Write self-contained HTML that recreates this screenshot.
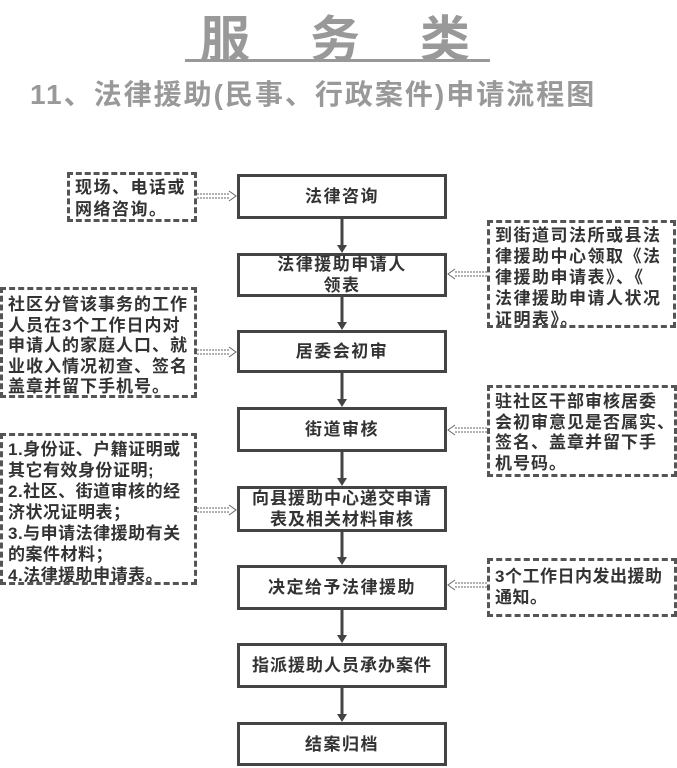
<!DOCTYPE html>
<html><head><meta charset="utf-8"><style>
body{margin:0;width:677px;height:768px;background:#fff;position:relative;overflow:hidden;font-family:"Liberation Sans","Noto Sans CJK SC",sans-serif;}
.t{position:absolute;color:#999;font-weight:bold;}
.b{position:absolute;left:237px;width:204px;border:3px solid #444;display:flex;align-items:center;justify-content:center;text-align:center;font-size:17px;font-weight:bold;color:#333;line-height:21px;letter-spacing:1.5px;}
.d{position:absolute;border:3px dashed #555;box-sizing:border-box;font-size:17px;font-weight:bold;color:#333;line-height:20.5px;padding:4px 2px 0 5px;letter-spacing:1.5px;white-space:nowrap;overflow:hidden;}
svg{position:absolute;left:0;top:0;}
</style></head><body>
<div class="t" style="left:200px;top:0px;font-size:50px">服</div>
<div class="t" style="left:310px;top:0px;font-size:50px">务</div>
<div class="t" style="left:420px;top:0px;font-size:50px">类</div>
<div style="position:absolute;left:185px;top:59px;width:305px;height:3px;background:#999"></div>
<div class="t" style="left:30px;top:73px;font-size:28px;white-space:nowrap;letter-spacing:2px">11、法律援助(民事、行政案件)申请流程图</div>

<div class="b" style="top:174px;height:39px">法律咨询</div>
<div class="b" style="top:253px;height:38px">法律援助申请人<br>领表</div>
<div class="b" style="top:330px;height:37px">居委会初审</div>
<div class="b" style="top:407px;height:39px">街道审核</div>
<div class="b" style="top:486px;height:40px;letter-spacing:1px">向县援助中心递交申请<br>表及相关材料审核</div>
<div class="b" style="top:565px;height:39px">决定给予法律援助</div>
<div class="b" style="top:643px;height:39px;letter-spacing:1px">指派援助人员承办案件</div>
<div class="b" style="top:722px;height:38px">结案归档</div>

<div class="d" style="left:67px;top:172px;width:130px;height:50px;line-height:22px;padding-top:2px">现场、电话或<br>网络咨询。</div>
<div class="d" style="left:0;top:287px;width:197px;height:111px;padding-top:5px;letter-spacing:1px">社区分管该事务的工作<br>人员在3个工作日内对<br>申请人的家庭人口、就<br>业收入情况初查、签名<br>盖章并留下手机号。</div>
<div class="d" style="left:0;top:433px;width:197px;height:152px;padding-top:3px;letter-spacing:0.5px;line-height:21px">1.身份证、户籍证明或<br>其它有效身份证明;<br>2.社区、街道审核的经<br>济状况证明表；<br>3.与申请法律援助有关<br>的案件材料；<br>4.法律援助申请表。</div>
<div class="d" style="left:487px;top:220px;width:189px;height:108px;padding-top:2px;line-height:21px">到街道司法所或县法<br>律援助中心领取《法<br>律援助申请表》、《<br>法律援助申请人状况<br>证明表》。</div>
<div class="d" style="left:487px;top:385px;width:190px;height:92px;padding-top:4px;letter-spacing:1px">驻社区干部审核居委<br>会初审意见是否属实、<br>签名、盖章并留下手<br>机号码。</div>
<div class="d" style="left:487px;top:558px;width:190px;height:59px;padding-top:6px;letter-spacing:0.5px">3个工作日内发出援助<br>通知。</div>

<svg width="677" height="768">
<g stroke="#444" stroke-width="3" fill="#444">
<line x1="342" y1="219" x2="342" y2="247"/><polygon points="337,245 347,245 342,253" stroke="none"/>
<line x1="342" y1="297" x2="342" y2="324"/><polygon points="337,322 347,322 342,330" stroke="none"/>
<line x1="342" y1="373" x2="342" y2="401"/><polygon points="337,399 347,399 342,407" stroke="none"/>
<line x1="342" y1="452" x2="342" y2="480"/><polygon points="337,478 347,478 342,486" stroke="none"/>
<line x1="342" y1="532" x2="342" y2="559"/><polygon points="337,557 347,557 342,565" stroke="none"/>
<line x1="342" y1="610" x2="342" y2="637"/><polygon points="337,635 347,635 342,643" stroke="none"/>
<line x1="342" y1="688" x2="342" y2="716"/><polygon points="337,714 347,714 342,722" stroke="none"/>
</g>
<g stroke="#666" stroke-width="1" fill="none" stroke-dasharray="2,1">
<path d="M197,194 H229 M197,198 H229"/><path d="M229,191 L236,196 L229,201" stroke-dasharray="none"/>
<path d="M197,350 H229 M197,354 H229"/><path d="M229,347 L236,352 L229,357" stroke-dasharray="none"/>
<path d="M197,508 H229 M197,512 H229"/><path d="M229,505 L236,510 L229,515" stroke-dasharray="none"/>
<path d="M487,272 H455 M487,276 H455"/><path d="M455,269 L448,274 L455,279" stroke-dasharray="none"/>
<path d="M487,428 H455 M487,432 H455"/><path d="M455,425 L448,430 L455,435" stroke-dasharray="none"/>
<path d="M487,583 H455 M487,587 H455"/><path d="M455,580 L448,585 L455,590" stroke-dasharray="none"/>
</g>
</svg>
</body></html>
